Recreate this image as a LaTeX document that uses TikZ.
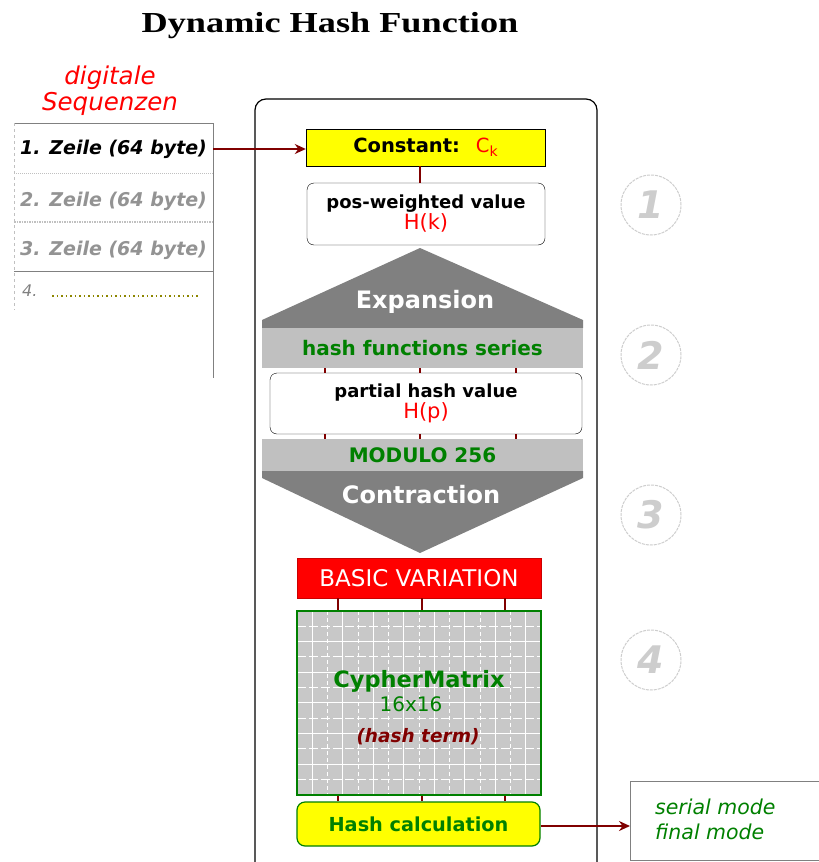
\documentclass[tikz,border=0pt]{standalone}
\usepackage{fontspec}
\setmainfont{DejaVu Sans}
\newfontfamily\titlefont[FakeStretch=1.25]{Liberation Serif}
\usetikzlibrary{arrows.meta}
\definecolor{dred}{RGB}{128,0,0}
\definecolor{hgreen}{RGB}{0,128,0}
\definecolor{dgray}{RGB}{128,128,128}
\definecolor{lgray}{RGB}{192,192,192}
\definecolor{cgray}{RGB}{200,200,200}
\definecolor{numgray}{RGB}{205,205,205}
\definecolor{hyellow}{RGB}{255,255,0}
\definecolor{hred}{RGB}{255,0,0}
\tikzset{
  rowtxt/.style={minimum width=199pt, minimum height=49pt, inner sep=0pt, font=\itshape\bfseries\fontsize{19}{21}\selectfont},
  wbox/.style={draw=black, fill=white, rounded corners=7pt, align=center, inner sep=0pt, font=\bfseries\fontsize{18}{23}\selectfont},
  band/.style={fill=lgray, inner sep=0pt, text=hgreen, font=\bfseries\fontsize{20}{21}\selectfont},
  link/.style={dred, line width=1.6pt},
  flow/.style={dred, line width=2pt, -{Stealth[length=11pt,width=10pt]}},
  numc/.style={circle, draw=numgray, line width=1pt, dash pattern=on 3pt off 1pt, minimum size=60pt, inner sep=0pt, text=numgray, font=\bfseries\itshape\fontsize{38}{38}\selectfont},
}
\begin{document}
\begin{tikzpicture}[x=1pt,y=-1pt]
\useasboundingbox (0,0) rectangle (819,862);

% title
\node (title) at (330,26) {\titlefont\bfseries\fontsize{29}{29}\selectfont Dynamic Hash Function};

% left table
\node[text=hred, font=\itshape\fontsize{24.5}{26}\selectfont, align=center] (dig) at (110,91) {digitale\\Sequenzen};
\draw[gray, line width=1pt] (14,123) -- (213,123);
\draw[gray, line width=1pt] (213,123) -- (213,378);
\draw[lgray, line width=1pt, dashed] (14,123) -- (14,310);
\draw[lgray, line width=1pt, densely dotted] (14,173) -- (213,173);
\draw[lgray, line width=1.5pt, densely dotted] (14,222) -- (213,222);
\draw[gray, line width=1pt] (14,271) -- (213,271);
\node[rowtxt, text=black] (row1) at (113.5,149) {1. Zeile (64 byte)};
\node[rowtxt, text=gray!85] (row2) at (113.5,201) {2. Zeile (64 byte)};
\node[rowtxt, text=gray!85] (row3) at (113.5,250) {3. Zeile (64 byte)};
\node[rowtxt, text=gray, anchor=west, minimum width=0pt, font=\itshape\fontsize{16}{18}\selectfont] (row4) at (22,291) {4.};
\draw[olive, line width=1.5pt, dash pattern=on 1.5pt off 3pt] (52,296) -- (200,296);

% main frame
\draw[black, line width=1.2pt, rounded corners=11pt] (255,870) -- (255,99) -- (597,99) -- (597,870);

% constant
\node[draw=black, fill=hyellow, minimum width=239pt, minimum height=37pt, inner sep=0pt, font=\bfseries\fontsize{19.5}{21}\selectfont] (const) at (425.5,147.5) {Constant:\hspace{16pt}\textcolor{hred}{\mdseries C\raisebox{-4pt}{\fontsize{14}{14}\selectfont k}}};
\node[wbox, minimum width=238pt, minimum height=62pt] (pos) at (426,214) {pos-weighted value\\[-2pt]\textcolor{hred}{\mdseries\fontsize{21}{22}\selectfont H(k)}};
\draw[link] (const.south -| 420,0) -- (pos.north -| 420,0);
\draw[flow] (row1.east) -- (row1.east -| const.west);

% expansion
\fill[dgray] (420,248) -- (583,320) -- (583,328) -- (262,328) -- (262,320) -- cycle;
\node[text=white, font=\bfseries\fontsize{24}{25}\selectfont] (exp) at (425,302) {Expansion};
\node[band, minimum width=321pt, minimum height=40pt] (hfs) at (422.5,348) {hash functions series};
\node[wbox, minimum width=312pt, minimum height=61pt] (part) at (426,403.5) {partial hash value\\[-2pt]\textcolor{hred}{\mdseries\fontsize{21}{22}\selectfont H(p)}};
\foreach \xx in {325,420,516} {
  \draw[link] (hfs.south -| \xx,0) -- (part.north -| \xx,0);
}
\node[band, minimum width=321pt, minimum height=32pt, font=\bfseries\fontsize{20}{21}\selectfont] (mod) at (422.5,455) {MODULO 256};
\foreach \xx in {325,420,516} {
  \draw[link] (part.south -| \xx,0) -- (mod.north -| \xx,0);
}
% contraction
\fill[dgray] (262,471) -- (583,471) -- (583,478) -- (420,553) -- (262,478) -- cycle;
\node[text=white, font=\bfseries\fontsize{24}{25}\selectfont] (con) at (421,495) {Contraction};

% basic variation
\node[fill=hred, draw=hred!80!black, minimum width=244pt, minimum height=40pt, inner sep=0pt, text=white, font=\fontsize{23}{24}\selectfont] (bv) at (419,578) {BASIC VARIATION};

% cypher matrix
\fill[cgray] (297,611) rectangle (541,795);
\begin{scope}
\clip (297,611) rectangle (541,795);
\foreach \i in {1,...,15} {
  \pgfmathsetmacro{\xx}{297+\i*15.25}
  \ifodd\i
    \draw[white, line width=1pt] (\xx,611) -- (\xx,795);
  \else
    \draw[white, line width=1pt, dash pattern=on 4pt off 3pt] (\xx,611) -- (\xx,795);
  \fi
}
\foreach \j in {1,...,12} {
  \pgfmathsetmacro{\yy}{611+\j*15.3}
  \ifodd\j
    \draw[white, line width=1pt, dash pattern=on 9pt off 3pt] (297,\yy) -- (541,\yy);
  \else
    \draw[white, line width=1pt] (297,\yy) -- (541,\yy);
  \fi
}
\end{scope}
\node[draw=hgreen, line width=1.2pt, minimum width=244pt, minimum height=184pt, inner sep=0pt] (cm) at (419,703) {};
\node[text=hgreen, font=\bfseries\fontsize{22.5}{24}\selectfont] (cmt) at (419,681) {CypherMatrix};
\node[text=hgreen, font=\fontsize{20}{21}\selectfont] (cms) at (411,704) {16x16};
\node[text=dred, font=\bfseries\itshape\fontsize{18.5}{20}\selectfont] (cmh) at (418,737) {(hash term)};
\foreach \xx in {338,422,505} {
  \draw[link] (bv.south -| \xx,0) -- (cm.north -| \xx,0);
}

% hash calculation
\node[draw=hgreen, line width=1.2pt, fill=hyellow, rounded corners=8pt, minimum width=243pt, minimum height=44pt, inner sep=0pt, text=hgreen, font=\bfseries\fontsize{19.3}{21}\selectfont] (hc) at (418.5,824) {Hash calculation};
\foreach \xx in {338,422,505} {
  \draw[link] (cm.south -| \xx,0) -- (hc.north -| \xx,0);
}

% output box
\draw[gray, line width=1pt] (819,781) -- (630,781) -- (630,860) -- (819,860);
\node[anchor=west, align=left, text=hgreen, inner sep=0pt, font=\itshape\fontsize{20.5}{25}\selectfont] (out) at (655,819) {serial mode\\final mode};
\coordinate (outw) at (630,826);
\draw[flow] (hc.east |- outw) -- (outw);

% step numbers
\node[numc] (n1) at (651,205) {1};
\node[numc] (n2) at (651,355) {2};
\node[numc] (n3) at (651,515) {3};
\node[numc] (n4) at (651,660) {4};
\end{tikzpicture}
\end{document}
